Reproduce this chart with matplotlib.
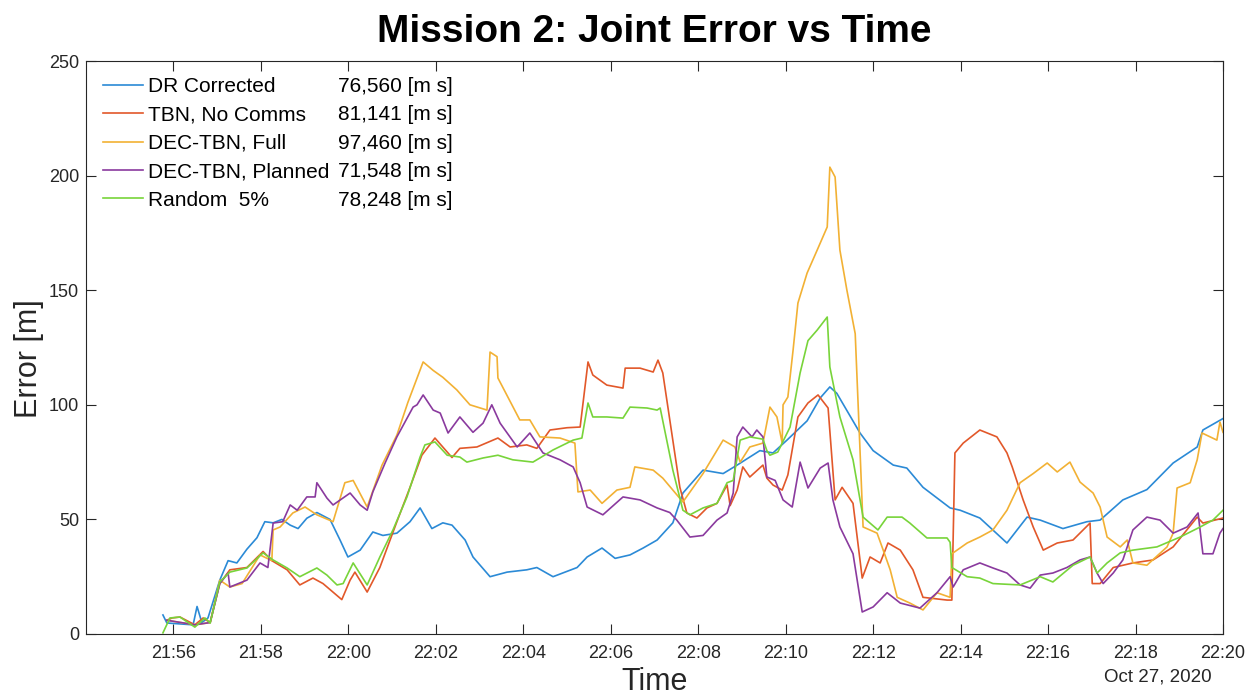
import numpy as np
import matplotlib
matplotlib.use('Agg')
import matplotlib.pyplot as plt
from matplotlib.lines import Line2D

plt.rcParams['font.family'] = ['Liberation Sans', 'DejaVu Sans']

# Data: time in minutes after 21:00 on Oct 27, 2020, error in metres
base_time = np.datetime64('2020-10-27T21:00:00')

blue_t = [55.76, 55.85, 56.45, 56.54, 56.65, 56.79, 57.06, 57.25, 57.45, 57.68, 57.91, 58.09, 58.28, 58.48, 58.67,
          58.85, 59.05, 59.28, 59.58, 59.81, 59.99, 60.27, 60.56, 60.79, 61.11, 61.41, 61.64, 61.91, 62.16, 62.37,
          62.67, 62.85, 63.24, 63.63, 64.08, 64.31, 64.68, 65.23, 65.46, 65.80, 66.10, 66.44, 66.74, 67.06, 67.42,
          67.65, 68.11, 68.57, 68.89, 69.41, 69.71, 70.03, 70.49, 70.79, 71.01, 71.17, 71.70, 72.00, 72.46, 72.77,
          73.14, 73.76, 73.99, 74.44, 75.06, 75.52, 75.82, 76.34, 76.89, 77.19, 77.71, 78.26, 78.86, 79.41, 79.54,
          80.00]
blue_v = [8.3, 4.8, 4, 12, 5, 7, 23.5, 32, 31, 37, 42, 49, 48.5, 50, 47.5, 46, 50.5, 53, 50, 41, 33.6, 36.6, 44.5,
          43, 44, 49, 55, 46, 48.5, 47.5, 41, 33.6, 25, 27, 28, 29, 25, 29, 33.6, 37.5, 33, 34.5, 37.5, 41, 48.5,
          61.5, 71.5, 70, 73.7, 80, 79, 84.6, 93, 103, 107.8, 105, 87.7, 80, 73.7, 72.4, 64, 55, 54, 50.6, 39.7, 51,
          49.7, 46, 49, 49.7, 58.5, 63, 74.6, 81.6, 89, 94]

red_t = [55.85, 55.97, 56.15, 56.49, 56.68, 56.84, 57.06, 57.29, 57.68, 58.05, 58.25, 58.60, 58.89, 59.19, 59.42,
         59.85, 60.04, 60.15, 60.43, 60.72, 61.11, 61.41, 61.68, 61.98, 62.37, 62.55, 62.94, 63.42, 63.70, 64.08,
         64.31, 64.61, 65.00, 65.30, 65.48, 65.59, 65.91, 66.28, 66.33, 66.67, 66.97, 67.08, 67.19, 67.58, 67.74,
         67.97, 68.20, 68.43, 68.66, 68.73, 68.89, 69.02, 69.18, 69.48, 69.57, 69.71, 69.92, 70.05, 70.28, 70.51,
         70.74, 70.97, 71.13, 71.29, 71.54, 71.75, 71.93, 72.16, 72.34, 72.62, 72.91, 73.14, 73.69, 73.80, 73.87,
         74.06, 74.44, 74.83, 75.06, 75.18, 75.43, 75.66, 75.89, 76.21, 76.57, 76.96, 77.01, 77.19, 77.49, 77.94,
         78.40, 78.86, 79.41, 79.54, 80.00]
red_v = [6, 7, 7.4, 4, 7, 5, 22, 28, 29, 36, 32, 28, 21.4, 24.4, 22, 15, 23.5, 27, 18.3, 29, 49, 64, 78, 85.5, 77,
         81, 81.6, 85.5, 81.6, 82.5, 81, 89, 90, 90.3, 118.7, 113, 108.6, 107.3, 116, 116, 114.3, 119.5, 113.9, 64,
         52.8, 50.6, 55, 57, 65, 56, 62.8, 72.9, 68.5, 73.7, 68, 65, 62.8, 69.4, 94.7, 100.8, 104.3, 98.6, 58.5, 64,
         57, 24.4, 33.6, 31, 39.7, 36.6, 28, 16, 14.8, 14.8, 79, 83.3, 89, 86, 79, 72.9, 58.5, 46.7, 36.6, 39.7, 41,
         48.4, 22, 22, 29, 31, 32.3, 38, 51, 48.4, 50.6]

yellow_t = [55.85, 56.49, 56.84, 57.06, 57.29, 57.57, 57.98, 58.25, 58.28, 58.44, 58.73, 59.01, 59.28, 59.65, 59.92,
            60.11, 60.43, 60.77, 61.11, 61.36, 61.71, 61.94, 62.16, 62.48, 62.78, 63.17, 63.24, 63.40, 63.42, 63.92,
            64.15, 64.38, 64.84, 65.18, 65.25, 65.53, 65.80, 66.14, 66.44, 66.55, 66.97, 67.19, 67.42, 67.65, 68.11,
            68.57, 68.84, 68.96, 69.18, 69.48, 69.64, 69.80, 69.92, 69.94, 70.05, 70.17, 70.28, 70.49, 70.72, 70.95,
            71.01, 71.13, 71.24, 71.40, 71.59, 71.70, 71.77, 72.09, 72.23, 72.39, 72.55, 72.84, 73.14, 73.46, 73.76,
            73.80, 74.15, 74.44, 74.74, 75.06, 75.36, 75.66, 75.98, 76.21, 76.50, 76.73, 77.03, 77.19, 77.35, 77.65,
            77.81, 77.94, 78.26, 78.72, 78.86, 78.95, 79.25, 79.41, 79.52, 79.86, 79.93, 80.00]
yellow_v = [6, 4, 5, 23.5, 20.5, 22, 34.5, 32, 45.4, 46.7, 52.8, 55.4, 52, 49, 66, 67, 55.4, 73.7, 86.8, 101, 118.7,
            115, 112, 106.5, 100, 97.7, 123, 121, 111.7, 93.4, 93.4, 86, 85.5, 83.3, 62, 62.8, 57, 62.8, 64, 72.9,
            71.5, 68, 62.8, 57.6, 70, 84.6, 81.6, 75, 81.6, 83.3, 99, 94.7, 83.3, 100, 103.4, 124, 144.4, 157.5,
            167.5, 177.6, 203.7, 199.4, 167.5, 150, 131, 80, 46.7, 44, 36.6, 28, 16, 13.5, 10.5, 18, 16, 35, 39.7,
            42.3, 45.4, 54, 66, 70, 74.6, 70.7, 75, 66.3, 61.5, 55.4, 42.3, 38, 41, 31, 30, 38, 44, 63.7, 66, 76,
            87.7, 84.6, 92.5, 88]

purple_t = [55.85, 56.49, 56.84, 57.06, 57.25, 57.29, 57.68, 57.98, 58.16, 58.28, 58.50, 58.67, 58.83, 59.05, 59.24,
            59.28, 59.51, 59.65, 60.04, 60.27, 60.43, 60.56, 60.84, 61.11, 61.48, 61.57, 61.71, 61.94, 62.10, 62.28,
            62.55, 62.85, 63.08, 63.28, 63.47, 63.86, 64.15, 64.45, 64.84, 65.14, 65.30, 65.46, 65.82, 66.28, 66.67,
            67.06, 67.35, 67.51, 67.81, 68.11, 68.43, 68.66, 68.80, 68.89, 69.02, 69.23, 69.34, 69.48, 69.57, 69.76,
            69.94, 70.15, 70.33, 70.51, 70.79, 70.97, 71.08, 71.24, 71.54, 71.75, 72.00, 72.32, 72.62, 73.07, 73.46,
            73.76, 73.83, 74.06, 74.44, 74.74, 75.06, 75.36, 75.59, 75.82, 76.11, 76.43, 76.73, 76.96, 77.12, 77.26,
            77.49, 77.71, 77.94, 78.26, 78.56, 78.86, 79.18, 79.43, 79.54, 79.77, 79.93, 80.00]
purple_v = [6, 4, 5, 22, 26.6, 20.5, 23.5, 31, 29, 48.4, 49, 56.3, 54, 59.8, 59.8, 66, 59.3, 56.3, 61.5, 56.3, 54,
            62, 74.6, 86, 99, 100, 104.3, 97.7, 96.4, 87.7, 94.7, 88, 92, 100, 92, 81.6, 87.7, 79, 76, 72.9, 66,
            55.4, 52, 59.8, 58.5, 55, 53, 49.7, 42.3, 43, 49.7, 52.8, 61.5, 86, 90.3, 86, 89, 86, 68.5, 67, 58.5,
            55.4, 75, 63.7, 72.4, 74.6, 58.5, 46.7, 35, 9.6, 11.8, 18, 13.5, 11.3, 18, 25, 20.5, 28, 31, 28.8, 26.6,
            21.4, 20, 25.7, 26.6, 29, 32.3, 33.6, 26.6, 22, 26.6, 32.3, 45.4, 51, 49.7, 44, 46.7, 52.8, 35, 35, 44, 46]

green_t = [55.76, 55.92, 56.15, 56.49, 56.72, 56.84, 57.06, 57.29, 57.68, 58.05, 58.28, 58.60, 58.89, 59.28, 59.51,
           59.74, 59.88, 60.11, 60.43, 60.72, 61.02, 61.34, 61.64, 61.75, 61.98, 62.26, 62.55, 62.71, 63.08, 63.42,
           63.76, 64.22, 64.38, 64.68, 65.14, 65.34, 65.48, 65.59, 65.91, 66.28, 66.44, 66.83, 67.06, 67.13, 67.42,
           67.65, 67.81, 68.11, 68.43, 68.66, 68.80, 68.96, 69.18, 69.48, 69.57, 69.64, 69.82, 70.10, 70.33, 70.51,
           70.72, 70.95, 71.01, 71.24, 71.54, 71.77, 72.11, 72.32, 72.66, 72.84, 73.23, 73.69, 73.76, 73.80, 74.15,
           74.44, 74.74, 75.36, 75.82, 76.11, 76.57, 76.96, 77.12, 77.35, 77.65, 77.94, 78.49, 79.02, 79.48, 79.77,
           80.00]
green_v = [0.5, 7, 7.4, 3, 7, 4.8, 22.7, 27, 28.8, 35.4, 32.3, 28.8, 25, 28.8, 25.7, 21.4, 22, 31, 21.4, 33.6,
           45.4, 59.8, 77.2, 82.5, 83.8, 78, 77.2, 75, 76.8, 78, 76, 75, 76.8, 80.3, 84.6, 85.5, 100.8, 94.7, 94.7,
           94.2, 99, 98.6, 97.7, 98.6, 71.5, 54, 52, 55, 57, 66, 67, 84.6, 86, 85, 80, 78, 79.4, 90.3, 113.9, 128,
           132.6, 138.3, 116.5, 94.7, 76, 51, 45.4, 51, 51, 48.4, 41.9, 41.9, 40, 29, 25, 24.4, 22, 21.4, 25, 22.7,
           30, 33.6, 26.6, 31, 35.4, 36.6, 38, 42.3, 46.7, 49.7, 54]

series_names = ['DR Corrected', 'TBN, No Comms', 'DEC-TBN, Full', 'DEC-TBN, Planned', 'Random  5%']
series_scores = ['76,560 [m s]', '81,141 [m s]', '97,460 [m s]', '71,548 [m s]', '78,248 [m s]']
series_colors = ['#2b8ad6', '#e2582a', '#f2b134', '#8a3a9e', '#78d43a']

xtick_minutes = [56, 58, 60, 62, 64, 66, 68, 70, 72, 74, 76, 78, 80]
xtick_labels = ['21:56', '21:58', '22:00', '22:02', '22:04', '22:06', '22:08',
                '22:10', '22:12', '22:14', '22:16', '22:18', '22:20']
yticks = [0, 50, 100, 150, 200, 250]


def to_time(minutes):
    """Minutes after 21:00 -> datetime64."""
    ms = np.round(np.asarray(minutes, dtype=float) * 60000).astype('timedelta64[ms]')
    return base_time + ms


fig = plt.figure(figsize=(12.55, 6.99), dpi=100)
ax = fig.add_axes([0.0685, 0.093, 0.906, 0.8197])

all_series = [(blue_t, blue_v), (red_t, red_v), (yellow_t, yellow_v), (purple_t, purple_v), (green_t, green_v)]
handles = []
for (t, v), color, name in zip(all_series, series_colors, series_names):
    h, = ax.plot(to_time(t), v, color=color, linewidth=1.2, label=name)
    handles.append(h)

ax.set_xlim(to_time(54), to_time(80))
ax.set_ylim(0, 250)
ax.set_xticks(to_time(xtick_minutes))
ax.set_xticklabels(xtick_labels)
ax.set_yticks(yticks)

axis_col = '#262626'
for sp in ax.spines.values():
    sp.set_color(axis_col)
    sp.set_linewidth(0.8)
ax.tick_params(direction='in', top=True, right=True, length=7, width=0.8, color=axis_col,
               labelsize=13, labelcolor=axis_col)
ax.tick_params(axis='x', pad=8)
ax.tick_params(axis='y', pad=5)

ax.set_title('Mission 2: Joint Error vs Time', fontsize=28, fontweight='bold', pad=14)
ax.set_ylabel('Error [m]', fontsize=22, color=axis_col)
ax.set_xlabel('Time', fontsize=22, color=axis_col)
ax.xaxis.set_label_coords(0.5, -0.057)
ax.yaxis.set_label_coords(-0.037, 0.48)
fig.text(1212 / 1255, 1 - 677 / 699, 'Oct 27, 2020', ha='right', va='center', fontsize=13.5, color=axis_col)

leg_kw = dict(loc='upper left', frameon=False, fontsize=15, labelspacing=0.45, borderpad=0, borderaxespad=0)
leg1 = ax.legend(handles, series_names, bbox_to_anchor=(0.015, 0.972), handlelength=1.9, handletextpad=0.25,
                 **leg_kw)
ax.add_artist(leg1)
blank = [Line2D([], [], linestyle='none') for _ in series_scores]
ax.legend(blank, series_scores, bbox_to_anchor=(0.222, 0.972), handlelength=0, handletextpad=0, **leg_kw)

fig.savefig('out.png', dpi=100)
